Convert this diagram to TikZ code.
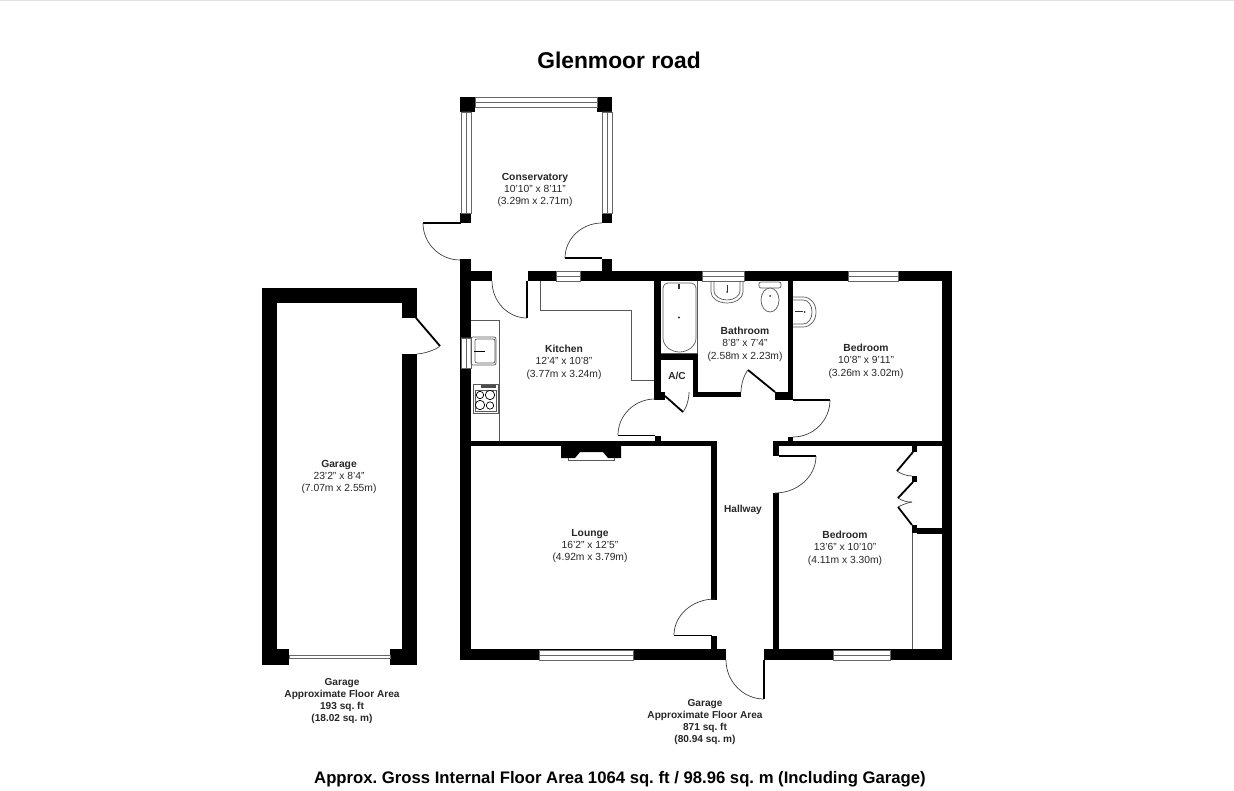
\documentclass[tikz,border=0pt]{standalone}
\usepackage{fontspec}
\setmainfont{Liberation Sans}
\usetikzlibrary{calc}
\newcommand{\swing}[3]{\draw[swing] (#1) .. controls ($(#1)!0.55!(#2)$) and ($(#3)!0.55!(#2)$) .. (#3);}
\newcommand{\winH}[3]{\draw[glass] (#1,#2) rectangle (#3,#2+10) (#1,#2+5) -- (#3,#2+5);}
\newcommand{\winV}[3]{\draw[glass] (#2,#1) rectangle (#2+10,#3) (#2+5,#1) -- (#2+5,#3);}
\tikzset{
  wall/.style={fill=black},
  swing/.style={draw=black!75,line width=0.7pt},
  leaf/.style={draw=black,line width=1.8pt},
  fitting/.style={draw=black!65,line width=0.7pt},
  glass/.style={draw=black!60,fill=white,line width=0.7pt},
  roomlabel/.style={align=center,inner sep=0pt,text=black!85,font=\fontsize{10.3}{12.4}\selectfont\frenchspacing},
  arealabel/.style={roomlabel,font=\fontsize{10.1}{12.3}\selectfont\bfseries\frenchspacing}
}
\begin{document}
\begin{tikzpicture}[x=1pt,y=-1pt]
  \useasboundingbox (0,0) rectangle (1234,791);
  \fill[black!12] (0,0) rectangle (1234,1.5);

  \foreach \xa/\ya/\xb/\yb in {460/97/475/112,597/97/612/112,460/213/471/223,602/213/612/223,602/259/612/271,
    460/259/471/660,460/271/492/281,528/271/556/281,580/271/702/281,744/271/848/281,898/271/952/281,942/271/952/660,
    654/281/661/399,654/354/698/360,693/354/698/397,693/392/741/397,775/392/793/400,788/281/793/400,654/392/665/400,
    655/436/661/441,471/441/717/446,711/441/717/600,711/636/717/650,460/649/726/660,764/649/952/660,
    773/441/942/446,773/441/779/456,773/493/779/650,788/437/793/441,
    912/446/917/452,912/476/917/482,912/525/917/533,917/528/942/534,
    262/288/417/303,262/288/277/665,402/288/417/318,402/354/417/665,262/649/289/665,390/649/417/665}
    \fill[wall] (\xa,\ya) rectangle (\xb,\yb);

  \winH{475}{97}{597}
  \winV{112}{461}{213}
  \winV{112}{602}{213}
  \winH{556}{271}{580}
  \winH{702}{271}{744}
  \winH{848}{271}{898}
  \winH{539}{650}{633}
  \winH{833}{650}{890}
  \winV{338}{461}{368}
  \draw[glass] (289,655.5) rectangle (390,658);

  \draw[leaf] (423,223) -- (461,223);
  \draw[leaf] (565,258) -- (602,258);
  \draw[leaf] (527,281) -- (527,318);
  \draw[leaf] (618,435.5) -- (655,435.5);
  \draw[leaf] (665,396) -- (683,412);
  \draw[leaf] (775,392) -- (748,370);
  \draw[leaf] (793,400) -- (830,400);
  \draw[leaf] (779,456) -- (816,456);
  \draw[leaf] (674,635.5) -- (712,635.5);
  \draw[leaf] (764,660) -- (764,699);
  \draw[leaf] (416,318) -- (440,346);
  \draw[leaf] (913,452) -- (897,471);
  \draw[leaf] (913,482) -- (898,498);
  \draw[leaf] (898,507) -- (912,525);

  \swing{423,223}{423,260}{460,260}
  \swing{602,223}{565,223}{565,258}
  \swing{492,281}{492,318}{527,318}
  \swing{655,399}{618,399}{618,435}
  \swing{683,412}{689,405}{689,392}
  \swing{748,370}{741,378}{741,392}
  \swing{830,400}{830,437}{793,437}
  \swing{816,456}{816,493}{775,493}
  \swing{715,599}{674,599}{674,635}
  \swing{726,660}{726,699}{764,699}
  \swing{440,346}{432,353}{417,354}
  \swing{897,471}{903,476}{912,476}
  \swing{898,498}{905,503}{912,502}
  \swing{912,502}{905,503}{898,507}

  \draw[fitting] (540,281) -- (540,310) -- (631,310) -- (631,380) -- (654,380);
  \draw[fitting] (471,320) -- (499,320) -- (499,441);
  \draw[fitting] (912,533) -- (912,649);
  \draw[fitting] (697,281) -- (697,354);
  \draw[fitting] (661,353) -- (697,353);

  \draw[fitting,rounded corners=2pt] (471,337) rectangle (496,365);
  \draw[fitting,rounded corners=2pt] (475,339) rectangle (495,363);
  \draw[fitting,black] (474,351) -- (485,351);
  \draw[fitting,fill=white] (473,384) rectangle (498,413);
  \draw[fitting] (475,390) rectangle (496,411);
  \foreach \cx/\cy/\cr in {480/395/3.7,490/395/4.7,480/405/4.7,490/405.5/3.7}
    \draw[fitting,black] (\cx,\cy) circle (\cr);
  \fill[black!70] (481,385.5) rectangle (496,388.5);

  \draw[fitting] (668,283) -- (691,283) .. controls (694,283) and (696,285) .. (696,288) -- (696,338) .. controls (696,346) and (688,352) .. (679.5,352) .. controls (671,352) and (663,346) .. (663,338) -- (663,288) .. controls (663,285) and (665,283) .. (668,283);
  \fill[black!80] (679,317.5) circle (1.2);
  \fill[black!80] (678,284) rectangle (680,289);

  \draw[fitting] (711,281) -- (711,292) .. controls (711,298) and (718,303) .. (727,303) .. controls (736,303) and (743,298) .. (743,292) -- (743,281);
  \draw[fitting] (714,281) -- (714,291) .. controls (714,296) and (720,300) .. (727,300) .. controls (734,300) and (740,296) .. (740,291) -- (740,281);
  \fill[black!80] (726.5,285) rectangle (727.5,292);
  \fill[black!80] (727,292) circle (1);
  \draw[fitting,rounded corners=2pt] (759,282) rectangle (781,288);
  \draw[fitting,fill=white] (770,300) ellipse (9 and 12);
  \fill[black!80] (770,296) circle (1);
  \draw[fitting] (793,297) -- (803,297) .. controls (811,297) and (816,304) .. (816,312) .. controls (816,320) and (811,327) .. (803,327) -- (793,327);
  \draw[fitting] (793,300) -- (803,300) .. controls (809,300) and (812,306) .. (812,312) .. controls (812,318) and (809,324) .. (803,324) -- (793,324);
  \fill[black!80] (795,311.5) rectangle (803,312.5);
  \fill[black!80] (804.5,312) circle (1);

  \fill[wall] (561,446) -- (621,446) -- (621,458) -- (608,458) -- (603,452) -- (580,452) -- (575,458) -- (561,458) -- cycle;
  \draw[fitting] (568,458) -- (568,460.5) -- (614,460.5) -- (614,458);

  \node[inner sep=0pt,font=\fontsize{22.8}{26}\selectfont\bfseries] (title) at (619,60.5) {Glenmoor road};
  \node[roomlabel] (conservatory) at (535,190) {\textbf{Conservatory}\\10'10" x 8'11"\\(3.29m x 2.71m)};
  \node[roomlabel] (kitchen) at (564,362) {\textbf{Kitchen}\\12'4" x 10'8"\\(3.77m x 3.24m)};
  \node[roomlabel] (bathroom) at (745,344) {\textbf{Bathroom}\\8'8" x 7'4"\\(2.58m x 2.23m)};
  \node[roomlabel] (bedroomtop) at (866,361) {\textbf{Bedroom}\\10'8" x 9'11"\\(3.26m x 3.02m)};
  \node[roomlabel] (lounge) at (590,546) {\textbf{Lounge}\\16'2" x 12'5"\\(4.92m x 3.79m)};
  \node[roomlabel] (bedroomlow) at (845,548) {\textbf{Bedroom}\\13'6" x 10'10"\\(4.11m x 3.30m)};
  \node[roomlabel] (garage) at (339,477) {\textbf{Garage}\\23'2" x 8'4"\\(7.07m x 2.55m)};
  \node[arealabel] (ac) at (677,375.5) {A/C};
  \node[arealabel] (hallway) at (743,509.5) {Hallway};
  \node[arealabel] (garagearea) at (342,701) {Garage\\Approximate Floor Area\\193 sq. ft\\(18.02 sq. m)};
  \node[arealabel] (mainarea) at (705,722) {Garage\\Approximate Floor Area\\871 sq. ft\\(80.94 sq. m)};
  \node[inner sep=0pt,font=\fontsize{16.7}{20}\selectfont\bfseries\frenchspacing] (total) at (620,779.5) {Approx. Gross Internal Floor Area 1064 sq. ft / 98.96 sq. m (Including Garage)};
\end{tikzpicture}
\end{document}
